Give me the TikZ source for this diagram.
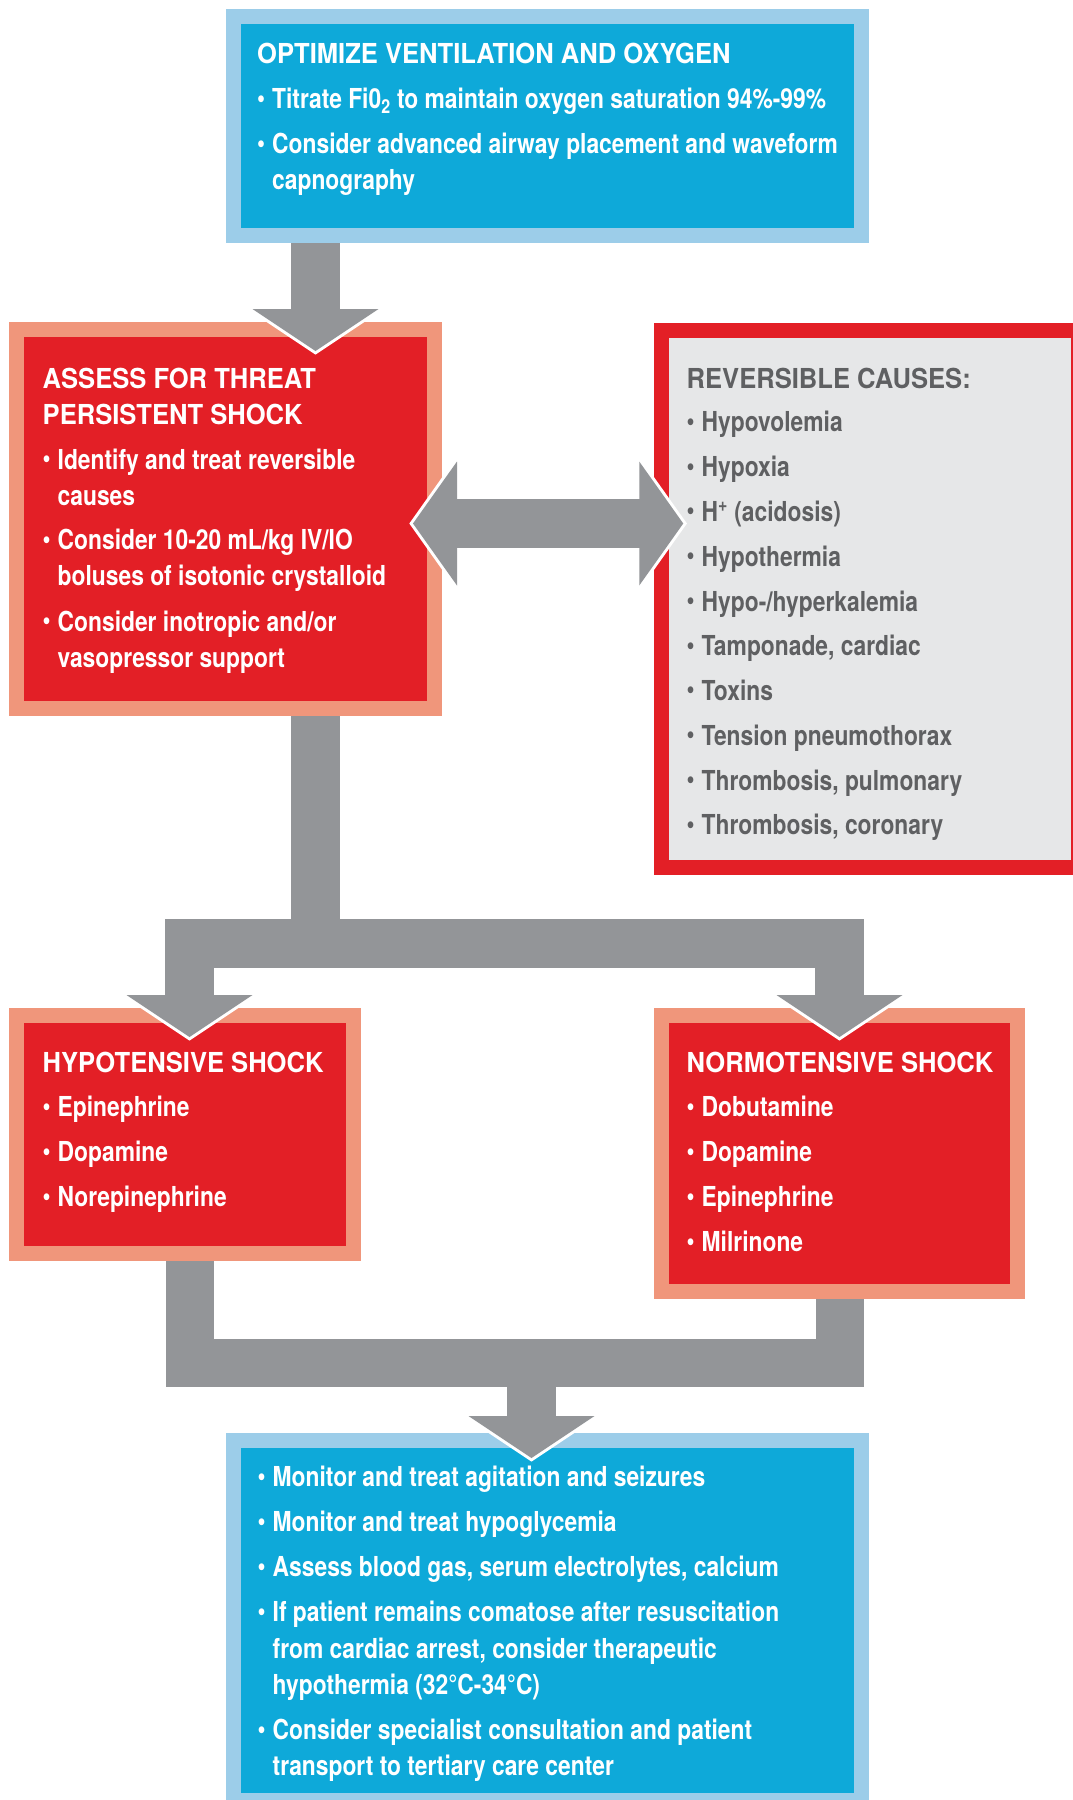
\documentclass[tikz,border=0pt]{standalone}
\usepackage{fontspec}
\usetikzlibrary{calc}
\newfontfamily\headfont[FakeStretch=0.93]{TeX Gyre Heros}
\newfontfamily\bodyfont[FakeStretch=0.83]{TeX Gyre Heros}
\newcommand\itemdot{\makebox[15pt][l]{\raisebox{1.5pt}{•}}}
\definecolor{paleblue}{HTML}{9CCDE9}
\definecolor{deepblue}{HTML}{0EA9D9}
\definecolor{rimsalmon}{HTML}{F0967B}
\definecolor{alertred}{HTML}{E31F26}
\definecolor{arrowgray}{HTML}{939598}
\definecolor{panelgray}{HTML}{E6E7E8}
\definecolor{inkgray}{HTML}{5F6062}
\tikzset{
  panel/.style={rectangle, inner sep=0pt, line width=15pt},
  bluepanel/.style={panel, draw=paleblue, fill=deepblue},
  redpanel/.style={panel, draw=rimsalmon, fill=alertred},
  causepanel/.style={panel, draw=alertred, fill=panelgray, line width=14.5pt},
  headtxt/.style={anchor=base west, inner sep=0pt, text=white,
    font=\headfont\bfseries\fontsize{27.5}{33}\selectfont},
  bodytxt/.style={anchor=base west, inner sep=0pt, text=white,
    font=\bodyfont\bfseries\fontsize{27.5}{33}\selectfont},
  grayhead/.style={headtxt, text=inkgray},
  graybody/.style={bodytxt, text=inkgray},
  stemline/.style={draw=arrowgray, line width=49pt, line cap=butt, line join=miter},
  headfill/.style={fill=arrowgray},
  halo/.style={draw=white, line width=6pt, line join=miter},
}
\begin{document}
\begin{tikzpicture}[x=1pt, y=-1pt]
\useasboundingbox (0,0) rectangle (1073,1800);
\fill[white] (0,0) rectangle (1073,1800);

% ---- boxes
\node[bluepanel, minimum width=628pt, minimum height=219pt] (optimize) at (547.5,126) {};
\node[redpanel, minimum width=418pt, minimum height=379pt] (assess) at (225.5,519) {};
\node[causepanel, minimum width=416.5pt, minimum height=537pt] (causes) at (869.75,598.75) {};
\node[redpanel, minimum width=336.5pt, minimum height=238.5pt] (hypo) at (184.75,1134.25) {};
\node[redpanel, minimum width=356pt, minimum height=276.5pt] (normo) at (839.5,1153.25) {};
\node[bluepanel, minimum width=628pt, minimum height=360.5pt] (care) at (547.5,1620.25) {};

% ---- arrow head positions (base centres for the downward heads)
\coordinate (hA) at ($(assess.north -| 315.5,0)+(0,-13)$);
\coordinate (hL) at ($(hypo.north -| 189.5,0)+(0,-12.5)$);
\coordinate (hR) at ($(normo.north -| 839.5,0)+(0,-12.5)$);
\coordinate (hC) at ($(care.north -| 531.5,0)+(0,-16.5)$);
\coordinate (tipL) at ($(assess.east |- 0,523.5)+(-29,0)$);
\coordinate (tipR) at ($(causes.west |- 0,523.5)+(29,0)$);

% white rims under the arrow heads
\foreach \h in {hA,hL,hR,hC}
  \draw[halo] (\h) ++(-63,0) -- ++(63,42) -- ++(63,-42);
\draw[halo] (tipL) ++(44,-62) -- (tipL) -- ++(44,62);
\draw[halo] (tipR) ++(-44,-62) -- (tipR) -- ++(-44,62);

% ---- connectors
\draw[stemline] (optimize.south -| 315.5,0) -- ($(hA)+(0,0.5)$);
\draw[stemline] ($(tipL)+(43.5,0)$) -- ($(tipR)+(-43.5,0)$);
\draw[stemline] (assess.south -| 315.5,0) -- (315.5,943.5);
\draw[stemline] ($(hL)+(0,0.5)$) -- (189.5,943.5) -- (839.5,943.5) -- ($(hR)+(0,0.5)$);
\draw[stemline, line width=48pt] (hypo.south -| 189.5,0) -- (189.5,1363) -- (839.5,1363) -- (normo.south -| 839.5,0);
\draw[stemline] (531.5,1363) -- ($(hC)+(0,0.5)$);

% ---- arrow heads
\foreach \h in {hA,hL,hR,hC}
  \fill[headfill] (\h) ++(-63,0) -- ++(63,42) -- ++(63,-42) -- cycle;
\fill[headfill] (tipL) -- ++(44,-62) -- ++(0,124) -- cycle;
\fill[headfill] (tipR) -- ++(-44,-62) -- ++(0,124) -- cycle;

% ---- texts: ventilation and oxygen
\node[headtxt] (optH) at (257,63.5) {OPTIMIZE VENTILATION AND OXYGEN};
\node[bodytxt] (opt1) at (257,108.5) {\itemdot Titrate Fi0\textsubscript{2} to maintain oxygen saturation 94\%-99\%};
\node[bodytxt] (opt2) at (257,153.5) {\itemdot Consider advanced airway placement and waveform};
\node[bodytxt] (opt3) at (272,189) {capnography};

% ---- texts: persistent shock
\node[headtxt] (asH1) at (42.5,388) {ASSESS FOR THREAT};
\node[headtxt] (asH2) at (42.5,424) {PERSISTENT SHOCK};
\node[bodytxt] (as1) at (42.5,469) {\itemdot Identify and treat reversible};
\node[bodytxt] (as2) at (57.5,505) {causes};
\node[bodytxt] (as3) at (42.5,549.5) {\itemdot Consider 10-20 mL/kg IV/IO};
\node[bodytxt] (as4) at (57.5,585.5) {boluses of isotonic crystalloid};
\node[bodytxt] (as5) at (42.5,631) {\itemdot Consider inotropic and/or};
\node[bodytxt] (as6) at (57.5,667.5) {vasopressor support};

% ---- texts: reversible causes
\node[grayhead] (rcH) at (686.5,388.2) {REVERSIBLE CAUSES:};
\foreach \yy/\lbl [count=\i] in {431.8/Hypovolemia, 476.5/Hypoxia,
    521/{H\textsuperscript{+} (acidosis)}, 566.4/Hypothermia,
    611/{Hypo-/hyperkalemia}, 655.6/{Tamponade, cardiac}, 700.3/Toxins,
    745.2/Tension pneumothorax, 790/{Thrombosis, pulmonary},
    834.7/{Thrombosis, coronary}}
  \node[graybody] (rc\i) at (686.5,\yy) {\itemdot\lbl};

% ---- texts: hypotensive shock
\node[headtxt] (hyH) at (42.5,1072.7) {HYPOTENSIVE SHOCK};
\foreach \yy/\lbl [count=\i] in {1116.7/Epinephrine, 1161.7/Dopamine, 1206.7/Norepinephrine}
  \node[bodytxt] (hy\i) at (42.5,\yy) {\itemdot\lbl};

% ---- texts: normotensive shock
\node[headtxt] (noH) at (686.5,1072.7) {NORMOTENSIVE SHOCK};
\foreach \yy/\lbl [count=\i] in {1116.7/Dobutamine, 1161.7/Dopamine, 1206.7/Epinephrine, 1251.5/Milrinone}
  \node[bodytxt] (no\i) at (686.5,\yy) {\itemdot\lbl};

% ---- texts: post-resuscitation care
\node[bodytxt] (pc1) at (257.5,1486.7) {\itemdot Monitor and treat agitation and seizures};
\node[bodytxt] (pc2) at (257.5,1531.7) {\itemdot Monitor and treat hypoglycemia};
\node[bodytxt] (pc3) at (257.5,1576.7) {\itemdot Assess blood gas, serum electrolytes, calcium};
\node[bodytxt] (pc4) at (257.5,1621.7) {\itemdot If patient remains comatose after resuscitation};
\node[bodytxt] (pc5) at (272.5,1658.2) {from cardiac arrest, consider therapeutic};
\node[bodytxt] (pc6) at (272.5,1694.7) {hypothermia (32°C-34°C)};
\node[bodytxt] (pc7) at (257.5,1739.5) {\itemdot Consider specialist consultation and patient};
\node[bodytxt] (pc8) at (272.5,1775.7) {transport to tertiary care center};
\end{tikzpicture}
\end{document}
